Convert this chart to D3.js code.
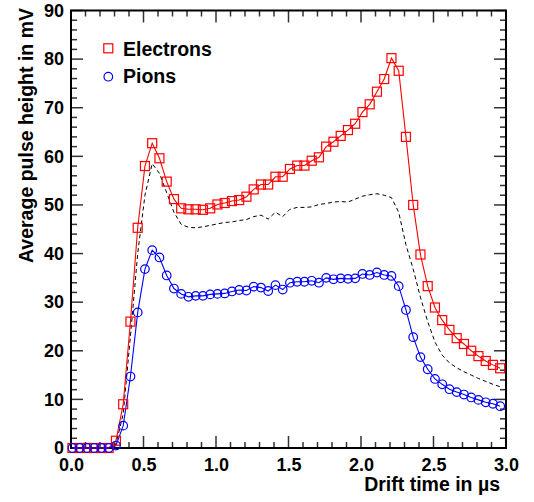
<!DOCTYPE html>
<html><head><meta charset="utf-8">
<script src="https://cdn.jsdelivr.net/npm/d3@7"></script>
<style>
html,body{margin:0;padding:0;background:#fff;}
svg text{font-family:"Liberation Sans",Arial,Helvetica,sans-serif;font-weight:bold;}
</style></head>
<body>
<svg id="c" width="534" height="502"></svg>
<script>
// Drift times (µs) of the bins
const times = [0.01,0.06,0.11,0.16,0.21,0.26,0.31,0.36,0.41,0.46,0.51,0.56,0.61,0.66,0.71,0.76,0.81,0.86,0.91,0.96,
  1.01,1.06,1.11,1.16,1.21,1.26,1.31,1.36,1.41,1.46,1.51,1.56,1.61,1.66,1.71,1.76,1.81,1.86,1.91,1.96,
  2.01,2.06,2.11,2.16,2.21,2.26,2.31,2.36,2.41,2.46,2.51,2.56,2.61,2.66,2.71,2.76,2.81,2.86,2.91,2.96];
const electrons = [0,0,0,0,0,0,1.5,9.0,26.0,45.3,58.0,62.7,59.6,54.8,51.2,49.3,49.1,49.1,49.0,49.3,
  50.1,50.4,50.8,51.0,51.7,53.2,54.2,54.2,55.8,55.8,57.4,58.1,58.1,59.1,59.8,62.0,63.0,64.2,65.4,66.7,
  69.1,70.7,73.3,75.9,80.2,77.6,64.0,50.0,39.8,33.3,28.9,26.3,24.3,22.6,21.4,20.0,18.9,17.9,17.1,16.4];
const pions = [0,0,0,0,0,0,0.5,4.6,14.7,27.9,36.8,40.7,39.2,35.5,32.8,31.7,31.1,31.3,31.3,31.6,
  31.7,31.8,32.2,32.5,32.4,33.2,33.0,32.3,33.5,32.6,34.0,34.2,34.2,34.4,34.0,35.0,34.7,34.9,34.8,34.9,
  35.8,35.6,36.1,35.6,35.4,33.3,28.4,22.8,18.7,16.2,14.2,13.1,12.1,11.5,11.0,10.4,9.9,9.4,9.1,8.6];
const dashed = [0,0,0,0,0,0,0.8,7.0,23.0,40.0,52.0,58.5,56.5,52.5,48.5,46.0,45.4,45.3,45.5,45.8,
  46.1,46.4,46.5,46.8,47.0,47.6,47.9,47.1,48.5,47.6,49.1,49.5,49.5,49.6,50.1,50.3,50.6,50.7,50.6,51.2,
  51.8,52.1,52.3,52.0,51.5,48.5,41.8,36.8,31.0,26.0,21.8,19.1,17.5,16.5,15.7,15.0,14.3,13.7,13.1,12.6];
const xTicks = [0.0,0.5,1.0,1.5,2.0,2.5,3.0];
const yTicks = [0,10,20,30,40,50,60,70,80,90];
const legendLabels = ["Electrons","Pions"];

const FONT = "Liberation Sans, Arial, sans-serif";
const svg = d3.select("#c");
const L = 71, R = 506, T = 10.5, B = 448;
const x = d3.scaleLinear().domain([0,3]).range([L,R]);
const y = d3.scaleLinear().domain([0,90]).range([B,T]);

// minor/major ticks
const g = svg.append("g");
const xMinor = d3.range(0,3.0001,0.1);
const yMinor = d3.range(0,90.0001,2);
const tickCol = "#333";
xMinor.forEach(v=>{
  const major = Math.abs(v*2-Math.round(v*2))<1e-6;
  const len = major?12:6;
  g.append("line").attr("x1",x(v)).attr("x2",x(v)).attr("y1",B).attr("y2",B-len).attr("stroke",tickCol).attr("stroke-width",1.5);
  g.append("line").attr("x1",x(v)).attr("x2",x(v)).attr("y1",T).attr("y2",T+len).attr("stroke",tickCol).attr("stroke-width",1.5);
});
yMinor.forEach(v=>{
  const major = v%10===0;
  const len = major?12:6;
  g.append("line").attr("y1",y(v)).attr("y2",y(v)).attr("x1",L).attr("x2",L+len).attr("stroke",tickCol).attr("stroke-width",1.5);
  g.append("line").attr("y1",y(v)).attr("y2",y(v)).attr("x1",R).attr("x2",R-len).attr("stroke",tickCol).attr("stroke-width",1.5);
});
svg.append("rect").attr("x",L).attr("y",T).attr("width",R-L).attr("height",B-T)
  .attr("fill","none").attr("stroke","#000").attr("stroke-width",2);

// axes labels via d3 axis (labels only)
const xa = svg.append("g").attr("transform",`translate(0,${B})`)
  .call(d3.axisBottom(x).tickValues(xTicks).tickFormat(d3.format(".1f")).tickSize(0).tickPadding(10));
xa.select(".domain").remove();
xa.selectAll("text").attr("font-size",18).attr("fill","#000").attr("font-family",FONT).attr("font-weight","bold");
const ya = svg.append("g").attr("transform",`translate(${L},0)`)
  .call(d3.axisLeft(y).tickValues(yTicks).tickFormat(d3.format("d")).tickSize(0).tickPadding(7));
ya.select(".domain").remove();
ya.selectAll("text").attr("font-size",18).attr("fill","#000").attr("font-family",FONT).attr("font-weight","bold");

svg.append("text").attr("x",500).attr("y",491).attr("text-anchor","end").attr("font-size",19.5).text("Drift time in µs");
svg.append("text").attr("transform","translate(33,8) rotate(-90)").attr("text-anchor","end").attr("font-size",19.5).text("Average pulse height in mV");

// data
const line = arr => d3.line().x((d,i)=>x(times[i])).y(d=>y(d))(arr);
const pg = svg.append("g");
pg.append("path").attr("d",line(dashed)).attr("fill","none").attr("stroke","#000").attr("stroke-width",1).attr("stroke-dasharray","4,3");
pg.append("path").attr("d",line(electrons)).attr("fill","none").attr("stroke","#ff0000").attr("stroke-width",1.1);
pg.append("path").attr("d",line(pions)).attr("fill","none").attr("stroke","#0000ff").attr("stroke-width",1.1);
const s = 9;
pg.selectAll(".sq").data(electrons).join("rect").attr("class","sq")
  .attr("x",(d,i)=>x(times[i])-s/2).attr("y",d=>y(d)-s/2).attr("width",s).attr("height",s)
  .attr("fill","none").attr("stroke","#ff0000").attr("stroke-width",1.2);
pg.selectAll(".ci").data(pions).join("circle").attr("class","ci")
  .attr("cx",(d,i)=>x(times[i])).attr("cy",d=>y(d)).attr("r",4.3)
  .attr("fill","none").attr("stroke","#0000ff").attr("stroke-width",1.2);

// legend
svg.append("rect").attr("x",108.3-s/2).attr("y",48.3-s/2).attr("width",s).attr("height",s)
  .attr("fill","none").attr("stroke","#ff0000").attr("stroke-width",1.2);
svg.append("circle").attr("cx",108.3).attr("cy",76.7).attr("r",4.3)
  .attr("fill","none").attr("stroke","#0000ff").attr("stroke-width",1.2);
svg.append("text").attr("x",123).attr("y",55.5).attr("font-size",19.5).text(legendLabels[0]);
svg.append("text").attr("x",123).attr("y",82.5).attr("font-size",19.5).text(legendLabels[1]);
</script>
</body></html>
